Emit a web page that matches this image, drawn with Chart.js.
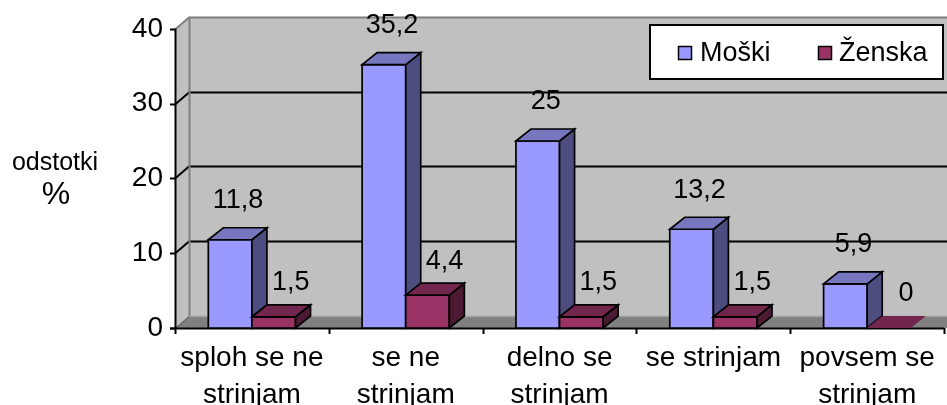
<!DOCTYPE html>
<html>
<head>
<meta charset="utf-8">
<script src="https://cdn.jsdelivr.net/npm/chart.js@4.4.1/dist/chart.umd.min.js"></script>
<style>
  html, body { margin: 0; padding: 0; background: #ffffff; }
  canvas { display: block; }
</style>
</head>
<body>
<canvas id="chart" width="947" height="405"></canvas>
<script>
// ---- data ----
const categories = [
  ["sploh se ne", "strinjam"],
  ["se ne", "strinjam"],
  ["delno se", "strinjam"],
  "se strinjam",
  ["povsem se", "strinjam"]
];
const seriesNames = ["Moški", "Ženska"];
const moski = [11.8, 35.2, 25, 13.2, 5.9];
const zenska = [1.5, 4.4, 1.5, 1.5, 0];
const yTicks = [0, 10, 20, 30, 40];
const axisTitle = ["odstotki", "%"];

// ---- styling ----
const FONT = '"Liberation Sans", Arial, Helvetica, sans-serif';
const WALL_DX = 14, WALL_DY = 12;   // depth of the back wall
const BAR_DX = 15, BAR_DY = 12;     // depth of each 3D column
const faces = [
  { front: '#9999ff', top: '#7777c0', side: '#4d4d80', labelDx: 8,  labelDy: 39 },
  { front: '#993366', top: '#73264d', side: '#4d1a33', labelDx: 17, labelDy: 34 }
];

function fmt(v) { return String(v).replace('.', ','); }

function poly(ctx, pts, fill, stroke) {
  ctx.beginPath();
  ctx.moveTo(pts[0][0], pts[0][1]);
  for (let i = 1; i < pts.length; i++) ctx.lineTo(pts[i][0], pts[i][1]);
  ctx.closePath();
  if (fill) { ctx.fillStyle = fill; ctx.fill(); }
  if (stroke) { ctx.strokeStyle = stroke; ctx.stroke(); }
}

function line(ctx, x1, y1, x2, y2, color, w) {
  ctx.beginPath();
  ctx.moveTo(x1, y1);
  ctx.lineTo(x2, y2);
  ctx.strokeStyle = color;
  ctx.lineWidth = w || 1;
  ctx.stroke();
}

// Walls, floor, gridlines, the 3D columns, value labels, legend and axis title.
const scene3d = {
  id: 'scene3d',
  beforeDatasetsDraw(chart) {
    const { ctx, chartArea: a, scales } = chart;
    const y = scales.y;
    const W = chart.width + 20;
    const L = a.left, B = a.bottom, T = a.top;
    ctx.save();
    ctx.lineWidth = 1;
    // back wall
    ctx.fillStyle = '#c0c0c0';
    ctx.fillRect(L + WALL_DX, T - WALL_DY, W, B - T);
    // side wall
    poly(ctx, [[L, T], [L + WALL_DX, T - WALL_DY], [L + WALL_DX, B - WALL_DY], [L, B]], '#c0c0c0');
    // floor
    poly(ctx, [[L, B], [L + WALL_DX, B - WALL_DY], [W, B - WALL_DY], [W, B]], '#808080');
    line(ctx, L + WALL_DX, B - WALL_DY + 0.5, W, B - WALL_DY + 0.5, '#a0a0a0', 1.5);
    // gridlines
    const top = y.max;
    yTicks.forEach(v => {
      const py = Math.round(y.getPixelForValue(v)) + 0.5;
      if (v === 0) {
        line(ctx, L, py, L + WALL_DX, py - WALL_DY, '#555555', 1);
      } else if (v === top) {
        line(ctx, L, py, L + WALL_DX, py - WALL_DY, '#808080', 2);
        line(ctx, L + WALL_DX, py - WALL_DY, W, py - WALL_DY, '#808080', 2);
      } else {
        ctx.beginPath();
        ctx.moveTo(L, py);
        ctx.lineTo(L + WALL_DX, py - WALL_DY);
        ctx.lineTo(W, py - WALL_DY);
        ctx.strokeStyle = '#000000';
        ctx.lineWidth = 2;
        ctx.stroke();
      }
    });
    // back-left wall edge
    line(ctx, L + WALL_DX + 0.5, T - WALL_DY, L + WALL_DX + 0.5, B - WALL_DY, '#808080', 2);
    // value axis with tick marks
    line(ctx, L + 0.5, T, L + 0.5, B + 1, '#000000', 2);
    yTicks.forEach(v => {
      const py = Math.round(y.getPixelForValue(v)) + 0.5;
      line(ctx, L - 5, py, L + 0.5, py, '#000000', 2);
    });
    // category axis with tick marks at category boundaries
    line(ctx, L - 5, Math.round(B) + 0.5, a.right, Math.round(B) + 0.5, '#000000', 2);
    const n = categories.length;
    const step = (a.right - L) / n;
    for (let i = 0; i <= n; i++) {
      const px = Math.round(L + i * step) + 0.5;
      line(ctx, px, B, px, B + 6, '#000000', 2);
    }
    ctx.restore();
  },
  beforeDatasetDraw() {
    return false;
  },
  afterDatasetsDraw(chart) {
    const { ctx } = chart;
    const metas = chart.data.datasets.map((_, d) => chart.getDatasetMeta(d));
    ctx.save();
    ctx.lineWidth = 1.7;
    ctx.lineJoin = 'miter';
    for (let i = 0; i < categories.length; i++) {
      metas.forEach((meta, d) => {
        const el = meta.data[i];
        const f = faces[d];
        const l = el.x - el.width / 2, r = el.x + el.width / 2;
        const t = el.y, b = el.base;
        if (b - t > 0.5) {
          poly(ctx, [[l, t], [r, t], [r, b], [l, b]], f.front, '#000000');
          poly(ctx, [[r, t], [r + BAR_DX, t - BAR_DY], [r + BAR_DX, b - BAR_DY], [r, b]], f.side, '#000000');
          poly(ctx, [[l, t], [l + BAR_DX, t - BAR_DY], [r + BAR_DX, t - BAR_DY], [r, t]], f.top, '#000000');
        } else {
          poly(ctx, [[l, t], [l + BAR_DX, t - BAR_DY], [r + BAR_DX, t - BAR_DY], [r, t]], f.top, null);
        }
      });
    }
    // value labels
    ctx.fillStyle = '#000000';
    ctx.font = '27px ' + FONT;
    ctx.textAlign = 'center';
    ctx.textBaseline = 'middle';
    metas.forEach((meta, d) => {
      const vals = chart.data.datasets[d].data;
      meta.data.forEach((el, i) => {
        ctx.fillText(fmt(vals[i]), el.x + faces[d].labelDx, el.y - faces[d].labelDy);
      });
    });
    ctx.restore();
  },
  afterDraw(chart) {
    const { ctx } = chart;
    ctx.save();
    // legend
    ctx.fillStyle = '#ffffff';
    ctx.fillRect(649, 24, 294, 55);
    ctx.strokeStyle = '#000000';
    ctx.lineWidth = 2;
    ctx.strokeRect(650, 25, 293, 54);
    ctx.font = '27px ' + FONT;
    ctx.textAlign = 'left';
    ctx.textBaseline = 'middle';
    const items = [{ mx: 678, tx: 700 }, { mx: 818, tx: 839 }];
    chart.data.datasets.forEach((ds, d) => {
      const it = items[d];
      ctx.fillStyle = ds.backgroundColor;
      ctx.fillRect(it.mx, 46, 14, 14);
      ctx.lineWidth = 1.5;
      ctx.strokeStyle = '#000000';
      ctx.strokeRect(it.mx + 0.5, 46.5, 13, 13);
      ctx.fillStyle = '#000000';
      ctx.fillText(ds.label, it.tx, 54);
    });
    // axis title
    ctx.textAlign = 'center';
    ctx.font = '25px ' + FONT;
    ctx.fillText(axisTitle[0], 55, 163);
    ctx.font = '32px ' + FONT;
    ctx.fillText(axisTitle[1], 56, 195);
    ctx.restore();
  }
};

new Chart(document.getElementById('chart'), {
  type: 'bar',
  data: {
    labels: categories,
    datasets: [
      { label: seriesNames[0], data: moski, backgroundColor: faces[0].front },
      { label: seriesNames[1], data: zenska, backgroundColor: faces[1].front }
    ]
  },
  options: {
    responsive: false,
    animation: false,
    events: [],
    layout: { padding: { top: 28, right: 1, left: 0, bottom: 0 } },
    datasets: { bar: { categoryPercentage: 0.567, barPercentage: 1 } },
    plugins: {
      legend: { display: false },
      tooltip: { enabled: false }
    },
    scales: {
      x: {
        grid: { display: false, drawTicks: false, tickLength: 0 },
        border: { display: false },
        ticks: {
          color: '#000000',
          font: { family: FONT, size: 28, lineHeight: 1.32 },
          padding: 12,
          maxRotation: 0,
          autoSkip: false
        },
        afterFit(scale) { scale.height = 77; }
      },
      y: {
        min: 0,
        max: 40,
        grid: { display: false, drawTicks: false, tickLength: 0 },
        border: { display: false },
        ticks: {
          stepSize: 10,
          color: '#000000',
          font: { family: FONT, size: 28 },
          padding: 12
        },
        afterFit(scale) { scale.width = 175; }
      }
    }
  },
  plugins: [scene3d]
});
</script>
</body>
</html>
